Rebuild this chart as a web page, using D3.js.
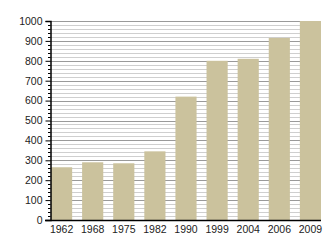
<!DOCTYPE html>
<html><head><meta charset="utf-8">
<script src="https://cdn.jsdelivr.net/npm/d3@7"></script>
<style>body{margin:0;background:#fff}svg{display:block}</style>
</head><body>
<script>
const years = ["1962","1968","1975","1982","1990","1999","2004","2006","2009"];
const values = [265, 290, 285, 345, 620, 800, 810, 915, 1000];
const yTicks = [0,100,200,300,400,500,600,700,800,900,1000];

const W = 330, H = 250;
const m = {left:50, right:9, top:21, bottom:30};
const svg = d3.select("body").append("svg").attr("width",W).attr("height",H);

const x = d3.scaleBand().domain(years).range([m.left+1, W-m.right]).paddingInner(0.32).paddingOuter(0);
const y = d3.scaleLinear().domain([0,1000]).range([H-m.bottom, m.top]);

const minor = d3.range(0, 1001, 20);
svg.append("g").selectAll("line").data(minor.filter(v => v % 100 !== 0)).join("line")
  .attr("x1", m.left).attr("x2", W-m.right)
  .attr("y1", d => Math.round(y(d))+0.5).attr("y2", d => Math.round(y(d))+0.5)
  .attr("stroke", "#cfcfcf").attr("stroke-width", 1);
svg.append("g").selectAll("line").data(yTicks.filter(v => v>0)).join("line")
  .attr("x1", m.left).attr("x2", W-m.right)
  .attr("y1", d => Math.round(y(d))+0.5).attr("y2", d => Math.round(y(d))+0.5)
  .attr("stroke", "#9a9a9a").attr("stroke-width", 1);

svg.append("g").selectAll("rect").data(values).join("rect")
  .attr("x", (d,i) => x(years[i]))
  .attr("width", x.bandwidth())
  .attr("y", d => y(d))
  .attr("height", d => y(0) - y(d))
  .attr("fill", "#cbc29d");

// y axis
const ya = svg.append("g").attr("transform", `translate(${m.left+0.5},0)`);
ya.call(d3.axisLeft(y).tickValues(yTicks).tickSize(5).tickPadding(3).tickFormat(d3.format("d")));
ya.select(".domain").attr("stroke","#000").attr("stroke-width",1.5);
ya.selectAll(".tick line").attr("stroke","#000");
ya.selectAll("text").attr("font-family","'Liberation Sans', Arial, sans-serif").attr("font-size",10.5).attr("fill","#222");
ya.selectAll(".minor").data(minor.filter(v => v % 100 !== 0)).join("line").attr("class","minor")
  .attr("x1",-2.5).attr("x2",0).attr("y1", d => Math.round(y(d))+0.5).attr("y2", d => Math.round(y(d))+0.5)
  .attr("stroke","#000");

// x axis
const xa = svg.append("g").attr("transform", `translate(0,${y(0)})`);
xa.call(d3.axisBottom(x).tickSize(0).tickPadding(6));
xa.select(".domain").remove();
xa.append("line").attr("x1", m.left-5).attr("x2", W-m.right).attr("y1",0.5).attr("y2",0.5).attr("stroke","#000").attr("stroke-width",1.5);
xa.selectAll("text").attr("font-family","'Liberation Sans', Arial, sans-serif").attr("font-size",10.5).attr("fill","#222");
</script>
</body></html>
